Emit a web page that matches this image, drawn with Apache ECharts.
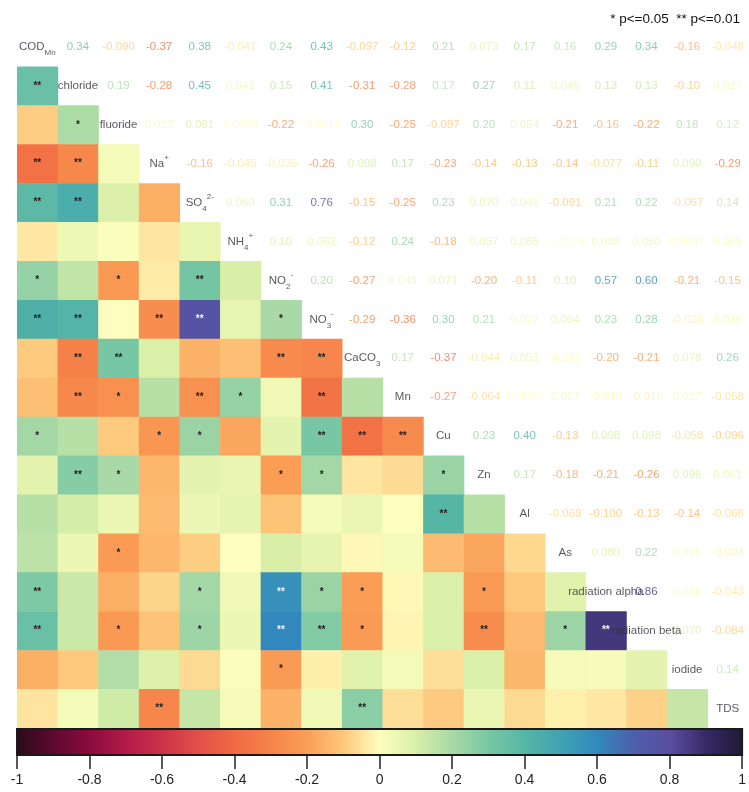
<!DOCTYPE html>
<html>
<head>
<meta charset="utf-8">
<script src="https://cdn.jsdelivr.net/npm/echarts@6/dist/echarts.min.js"></script>
<style>
  html, body { margin: 0; padding: 0; background: #ffffff; }
  #chart { width: 749px; height: 792px; }
</style>
</head>
<body>
<div id="chart"></div>
<script>
// Variables of the correlation matrix, in display order
const variables = ['COD_Mn', 'chloride', 'fluoride', 'Na+', 'SO4 2-', 'NH4+', 'NO2-', 'NO3-', 'CaCO3',
  'Mn', 'Cu', 'Zn', 'Al', 'As', 'radiation alpha', 'radiation beta', 'iodide', 'TDS'];

// Rich-text names drawn on the diagonal
const variableLabels = ['{m|COD}{sub|Mn}', '{m|chloride}', '{m|fluoride}', '{m|Na}{sup|+}',
  '{m|SO}{sub|4}{sup|2-}', '{m|NH}{sub|4}{sup|+}', '{m|NO}{sub|2}{sup|-}', '{m|NO}{sub|3}{sup|-}',
  '{m|CaCO}{sub|3}', '{m|Mn}', '{m|Cu}', '{m|Zn}', '{m|Al}', '{m|As}', '{m|radiation alpha}',
  '{m|radiation beta}', '{m|iodide}', '{m|TDS}'];

// Correlation coefficients: row i lists r(i, j) for j = i+1 ... last
const corrRows = [
  ['0.34', '-0.090', '-0.37', '0.38', '-0.041', '0.24', '0.43', '-0.097', '-0.12', '0.21', '0.073', '0.17', '0.16', '0.29', '0.34', '-0.16', '-0.048'],
  ['0.19', '-0.28', '0.45', '0.042', '0.15', '0.41', '-0.31', '-0.28', '0.17', '0.27', '0.11', '0.045', '0.13', '0.13', '-0.10', '0.027'],
  ['0.027', '0.091', '0.0079', '-0.22', '-0.0016', '0.30', '-0.25', '-0.097', '0.20', '0.054', '-0.21', '-0.16', '-0.22', '0.18', '0.12'],
  ['-0.16', '-0.045', '-0.035', '-0.26', '0.098', '0.17', '-0.23', '-0.14', '-0.13', '-0.14', '-0.077', '-0.11', '0.090', '-0.29'],
  ['0.060', '0.31', '0.76', '-0.15', '-0.25', '0.23', '0.070', '0.045', '-0.091', '0.21', '0.22', '-0.067', '0.14'],
  ['0.10', '0.062', '-0.12', '0.24', '-0.18', '0.057', '0.065', '-1.7E-4', '0.038', '0.050', '0.0097', '0.025'],
  ['0.20', '-0.27', '0.041', '0.071', '-0.20', '-0.11', '0.10', '0.57', '0.60', '-0.21', '-0.15'],
  ['-0.29', '-0.36', '0.30', '0.21', '0.027', '0.064', '0.23', '0.28', '-0.028', '0.036'],
  ['0.17', '-0.37', '-0.044', '0.051', '-0.011', '-0.20', '-0.21', '0.078', '0.26'],
  ['-0.27', '-0.064', '0.0024', '0.027', '-0.013', '-0.016', '0.027', '-0.058'],
  ['0.23', '0.40', '-0.13', '0.098', '0.098', '-0.058', '-0.096'],
  ['0.17', '-0.18', '-0.21', '-0.26', '0.096', '0.051'],
  ['-0.069', '-0.100', '-0.13', '-0.14', '-0.066'],
  ['0.080', '0.22', '0.025', '-0.024'],
  ['0.86', '0.018', '-0.043'],
  ['0.070', '-0.084'],
  ['0.14'],
  []
];

// Significance marks: row i lists the mark for j = 0 ... i-1
const sigRows = [
  [],
  ['**'],
  ['', '*'],
  ['**', '**', ''],
  ['**', '**', '', ''],
  ['', '', '', '', ''],
  ['*', '', '*', '', '**', ''],
  ['**', '**', '', '**', '**', '', '*'],
  ['', '**', '**', '', '', '', '**', '**'],
  ['', '**', '*', '', '**', '*', '', '**', ''],
  ['*', '', '', '*', '*', '', '', '**', '**', '**'],
  ['', '**', '*', '', '', '', '*', '*', '', '', '*'],
  ['', '', '', '', '', '', '', '', '', '', '**', ''],
  ['', '', '*', '', '', '', '', '', '', '', '', '', ''],
  ['**', '', '', '', '*', '', '**', '*', '*', '', '', '*', '', ''],
  ['**', '', '*', '', '*', '', '**', '**', '*', '', '', '**', '', '*', '**'],
  ['', '', '', '', '', '', '*', '', '', '', '', '', '', '', '', ''],
  ['', '', '', '**', '', '', '', '', '**', '', '', '', '', '', '', '', '']
];

// Colour scale, evenly spaced from -1 to 1
const scaleColors = ['#2a0a18', '#5a0a2e', '#8a0b3c', '#b21a48', '#cc3248', '#e0504a', '#f06a44',
  '#f5834a', '#fa9e56', '#fdc87c', '#fefebe', '#d9efa8', '#a8d9a6', '#78c7a4', '#56b6a6', '#3fa3b2',
  '#3288bd', '#4e5eab', '#5a4e9f', '#362966', '#1e1a33'];
const scaleRange = [-1, 1];
const legendText = '* p<=0.05  ** p<=0.01';

const FONT = "'Liberation Sans', Arial, sans-serif";

function hexToRgb(h) {
  return [parseInt(h.slice(1, 3), 16), parseInt(h.slice(3, 5), 16), parseInt(h.slice(5, 7), 16)];
}
function colorFor(v) {
  const n = scaleColors.length - 1;
  let t = (v - scaleRange[0]) / (scaleRange[1] - scaleRange[0]) * n;
  t = Math.max(0, Math.min(n, t));
  const k = Math.min(n - 1, Math.floor(t));
  const f = t - k;
  const a = hexToRgb(scaleColors[k]), b = hexToRgb(scaleColors[k + 1]);
  const c = a.map((x, i) => Math.round(x + (b[i] - x) * f));
  return 'rgb(' + c.join(',') + ')';
}

const nVar = variables.length;
const idx = variables.map((_, i) => i);

// Lower triangle cells: [col, row, r, mark]
const cellData = [];
for (let i = 1; i < nVar; i++) {
  for (let j = 0; j < i; j++) {
    const r = Number(corrRows[j][i - j - 1]);
    cellData.push([j, i, r, sigRows[i][j]]);
  }
}

// Upper triangle coefficient texts
const textData = [];
for (let i = 0; i < nVar; i++) {
  corrRows[i].forEach((s, k) => {
    const j = i + 1 + k;
    const r = Number(s);
    textData.push({
      value: [j, i],
      label: { formatter: s, color: colorFor(r) }
    });
  });
}

// Diagonal names
const diagData = idx.map(i => ({ value: [i, i], label: { formatter: variableLabels[i] } }));

const chart = echarts.init(document.getElementById('chart'), null, { renderer: 'canvas' });

chart.setOption({
  backgroundColor: '#ffffff',
  animation: false,
  title: {
    text: legendText,
    right: 4,
    top: 7,
    textStyle: { fontFamily: FONT, fontSize: 13.5, fontWeight: 'normal', color: '#111' }
  },
  grid: [
    { left: 17, top: 27.5, width: 731, height: 700.5 },
    { left: 17, top: 729, width: 731, height: 26 }
  ],
  xAxis: [
    { type: 'category', data: idx, gridIndex: 0, show: false },
    {
      type: 'value', gridIndex: 1, min: scaleRange[0], max: scaleRange[1], interval: 0.2,
      axisLine: { show: false },
      axisTick: { show: true, length: 14, lineStyle: { color: '#222', width: 1.5 } },
      splitLine: { show: false },
      axisLabel: {
        fontFamily: FONT, fontSize: 14, color: '#222', margin: 18,
        formatter: v => String(Number(v.toFixed(1)))
      }
    }
  ],
  yAxis: [
    { type: 'category', data: idx, gridIndex: 0, inverse: true, show: false },
    { type: 'value', gridIndex: 1, min: 0, max: 1, show: false }
  ],
  series: [
    {
      // coloured cells with significance marks
      type: 'custom',
      xAxisIndex: 0, yAxisIndex: 0,
      silent: true,
      data: cellData,
      renderItem: function (params, api) {
        const c = api.coord([api.value(0), api.value(1)]);
        const s = api.size([1, 1]);
        const r = api.value(2);
        const mark = cellData[params.dataIndex][3];
        return {
          type: 'group',
          children: [
            {
              type: 'rect',
              shape: { x: c[0] - s[0] / 2, y: c[1] - s[1] / 2, width: s[0] + 0.6, height: s[1] + 0.6 },
              style: { fill: colorFor(r) }
            },
            {
              type: 'text',
              x: c[0], y: c[1],
              style: {
                text: mark, fill: Math.abs(r) >= 0.55 ? '#f2f4ff' : '#222',
                font: 'bold 10px ' + FONT, align: 'center', verticalAlign: 'middle'
              }
            }
          ]
        };
      }
    },
    {
      // coefficient values above the diagonal
      type: 'scatter',
      xAxisIndex: 0, yAxisIndex: 0,
      silent: true,
      symbolSize: 0,
      data: textData,
      label: { show: true, position: 'inside', fontFamily: FONT, fontSize: 11.5 }
    },
    {
      // variable names on the diagonal
      type: 'scatter',
      xAxisIndex: 0, yAxisIndex: 0,
      silent: true,
      symbolSize: 0,
      data: diagData,
      label: {
        show: true, position: 'inside', color: '#2f2f3a',
        rich: {
          m: { fontFamily: FONT, fontSize: 11.5, color: '#2f2f3a', lineHeight: 20, verticalAlign: 'middle' },
          sub: { fontFamily: FONT, fontSize: 8, color: '#2f2f3a', verticalAlign: 'bottom', lineHeight: 10 },
          sup: { fontFamily: FONT, fontSize: 8, color: '#2f2f3a', verticalAlign: 'top', lineHeight: 10 }
        }
      }
    },
    {
      // colour bar
      type: 'custom',
      xAxisIndex: 1, yAxisIndex: 1,
      silent: true,
      data: [scaleRange],
      renderItem: function (params, api) {
        const p0 = api.coord([api.value(0), 1]);
        const p1 = api.coord([api.value(1), 0]);
        const stops = scaleColors.map((c, k) => ({ offset: k / (scaleColors.length - 1), color: c }));
        return {
          type: 'rect',
          shape: { x: p0[0], y: p0[1], width: p1[0] - p0[0], height: p1[1] - p0[1] },
          style: {
            fill: new echarts.graphic.LinearGradient(0, 0, 1, 0, stops),
            stroke: '#1a1a1a', lineWidth: 2
          }
        };
      }
    }
  ]
});
</script>
</body>
</html>
